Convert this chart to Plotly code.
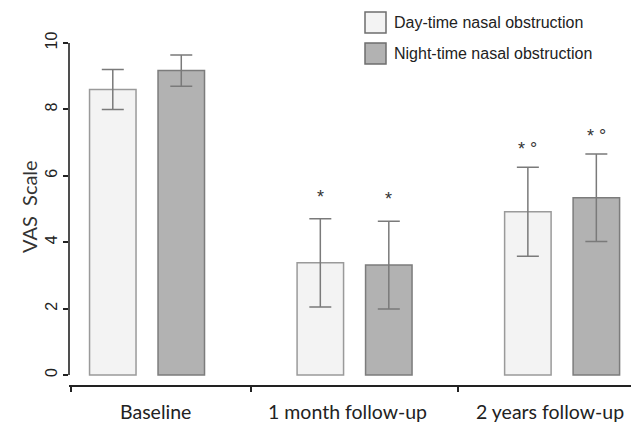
import plotly.graph_objects as go

categories = ["Baseline", "1 month follow-up", "2 years follow-up"]
series_names = ["Day-time nasal obstruction", "Night-time nasal obstruction"]
day_mean = [8.6, 3.38, 4.92]
day_err = [0.6, 1.33, 1.34]
night_mean = [9.17, 3.31, 5.34]
night_err = [0.47, 1.32, 1.32]
day_marks = ["", "*", "* °"]
night_marks = ["", "*", "* °"]
y_ticks = [0, 2, 4, 6, 8, 10]

day_fill, day_line = "#f3f3f3", "#9a9a9a"
night_fill, night_line = "#b2b2b2", "#7c7c7c"
err_col = "#7a7a7a"

W, H = 631, 423
L, T, B = 69, 43, 38
plot_w = W - L
plot_h = H - T - B

xs = list(range(len(categories)))
bw = 0.224
day_off = -0.277
night_off = 0.053
label_xshift = [8, -7, -12]   # layout nudges for category labels (pixels)
mark_yshift = [0, 22, 18]     # layout nudges for significance marks (pixels)

fig = go.Figure()
fig.add_trace(go.Bar(
    x=xs, y=day_mean, width=bw, offset=day_off, name=series_names[0],
    marker=dict(color=day_fill, line=dict(color=day_line, width=1.5)),
    error_y=dict(type="data", array=day_err, color=err_col, thickness=1.5, width=11),
    showlegend=False))
fig.add_trace(go.Bar(
    x=xs, y=night_mean, width=bw, offset=night_off, name=series_names[1],
    marker=dict(color=night_fill, line=dict(color=night_line, width=1.5)),
    error_y=dict(type="data", array=night_err, color=err_col, thickness=1.5, width=11),
    showlegend=False))

def px_x(p):
    return (p - L) / plot_w

def px_y(p):
    return (H - B - p) / plot_h

annotations = []
mark_font = dict(family="Liberation Sans", size=18, color="#333")
for i in xs:
    if day_marks[i]:
        annotations.append(dict(x=i + day_off + bw / 2, y=day_mean[i] + day_err[i], text=day_marks[i],
                                xref="x", yref="y", showarrow=False, yshift=mark_yshift[i], font=mark_font))
    if night_marks[i]:
        annotations.append(dict(x=i + night_off + bw / 2, y=night_mean[i] + night_err[i], text=night_marks[i],
                                xref="x", yref="y", showarrow=False, yshift=mark_yshift[i], font=mark_font))
    annotations.append(dict(x=i, y=px_y(411), xref="x", yref="paper", text=categories[i],
                            showarrow=False, xanchor="center", yanchor="middle", xshift=label_xshift[i],
                            borderpad=0, font=dict(family="Lato", size=19.5, color="#222")))

annotations.append(dict(x=px_x(29), y=px_y(206), xref="paper", yref="paper", text="VAS\u00a0\u00a0Scale",
                        textangle=-90, showarrow=False, xanchor="center", yanchor="middle",
                        font=dict(family="Lato", size=20, color="#333")))

shapes = []
for k, fc in enumerate([day_fill, night_fill]):
    top = 12 + k * 31
    shapes.append(dict(type="rect", xref="paper", yref="paper",
                       x0=px_x(365), x1=px_x(386), y0=px_y(top + 21), y1=px_y(top),
                       fillcolor=fc, line=dict(color="#6e6e6e", width=1.5)))
    annotations.append(dict(x=px_x(392), y=px_y(top + 10.5), xref="paper", yref="paper",
                            text=series_names[k], showarrow=False, xanchor="left", yanchor="middle",
                            font=dict(family="Liberation Sans", size=16, color="#222")))

shapes.append(dict(type="line", xref="paper", yref="y", x0=0, x1=0, y0=0, y1=10,
                   line=dict(color="#222", width=1.6)))

fig.update_layout(
    width=W, height=H,
    margin=dict(l=L, r=0, t=T, b=B, pad=0),
    plot_bgcolor="white", paper_bgcolor="white",
    barmode="overlay",
    xaxis=dict(range=[-0.376, 2.332], tickmode="array", tickvals=xs, showticklabels=False,
               showline=True, linecolor="#222", linewidth=1.6, showgrid=False, zeroline=False,
               ticks="",
               minor=dict(tickmode="array", tickvals=[-0.366, 0.5, 1.5], ticks="outside",
                          ticklen=5, tickcolor="#222", tickwidth=1.6, showgrid=False)),
    yaxis=dict(range=[-0.301, 10], tickmode="array", tickvals=y_ticks,
               showline=False, showgrid=False, zeroline=False,
               ticks="outside", ticklen=5, tickcolor="#222", tickwidth=1.5,
               tickangle=-90,
               tickfont=dict(family="Liberation Sans", size=16, color="#222")),
    shapes=shapes,
    annotations=annotations,
)

fig.write_html("out.html", config={"displayModeBar": False},
               post_script="document.body.style.margin='0';document.body.style.overflow='hidden';")
